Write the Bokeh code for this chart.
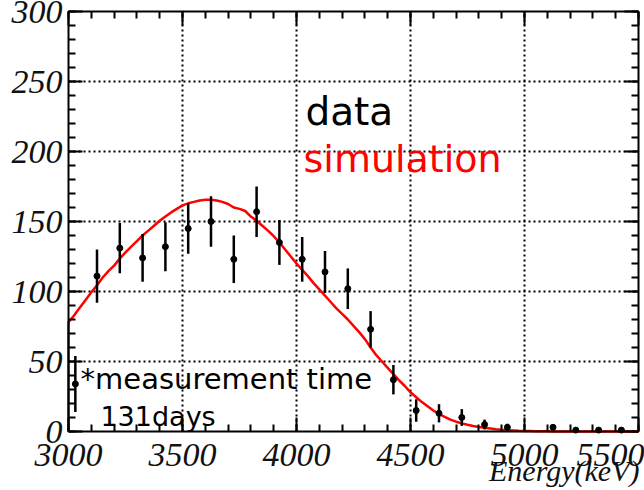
import numpy as np
from bokeh.plotting import figure
from bokeh.models import (Range1d, SingleIntervalTicker, Label, ColumnDataSource,
                          LinearAxis)
from bokeh.embed import file_html
from bokeh.resources import INLINE

# ---- data ----
data_energy = [3030, 3125, 3225, 3325, 3425, 3525, 3625, 3725, 3825, 3925,
               4025, 4125, 4225, 4325, 4425, 4525, 4625, 4725, 4825, 4925,
               5125, 5225, 5325, 5425]
data_counts = [34, 111, 131, 124, 132, 145, 150, 123, 157, 135,
               123, 114, 102, 73, 37, 15, 13, 10, 5, 3,
               3, 1, 1, 1]
data_error = [20, 19, 18, 17, 17.5, 18, 18, 17, 18, 16,
              16, 15, 14.5, 13, 10.5, 8, 6.5, 6, 3.5, 2.5,
              2, 1, 1, 1]

sim_first_edge = 3000
sim_bin_width = 25
sim_counts = [78, 83, 88.5, 94, 99.5, 104.5, 110, 114.5, 118.5, 123.5,
              128, 132, 136, 140, 143.5, 147, 150.5, 153.5, 156.5, 159,
              161.5, 163, 164, 165, 165.5, 165.5, 165, 164, 162.5, 160,
              159, 157.5, 153.5, 150.5, 147, 143.5, 139.5, 135, 130, 125,
              120, 115.5, 111, 106, 101.5, 97, 92.5, 88, 84, 80,
              75.5, 71, 66, 60, 54.5, 50, 45.5, 41, 36.5, 32.5,
              28, 24.5, 21, 18, 15, 12.5, 10.5, 8.5, 7, 5.8,
              4.8, 3.9, 3.2, 2.6, 2.1, 1.6, 1.2, 0.9, 0.7, 0.5,
              0.4, 0.3, 0.2, 0.2, 0.1, 0, 0, 0, 0, 0,
              0, 0, 0, 0, 0, 0, 0, 0, 0, 0]

x_min, x_max = 3000, 5500
y_min, y_max = 0, 300
x_major_step = 500
y_major_step = 50
x_title = "Energy(keV)"
legend_data = "data"
legend_sim = "simulation"
note_line1 = "*measurement time"
note_line2 = "131days"

# ---- layout (pixels) ----
W, H = 644, 490                 # whole canvas is the frame; axes sit at fixed spots
PLOT_W, PLOT_H = 570, 420       # size of the 3000..5500 x 0..300 box
LEFT, TOP = 68, 11              # where that box starts
kx = (x_max - x_min) / PLOT_W
ky = (y_max - y_min) / PLOT_H
x_lo = x_min - LEFT * kx
x_hi = x_min + (W - LEFT) * kx
y_hi = y_max + TOP * ky
y_lo = y_max - (H - TOP) * ky

p = figure(frame_width=W, frame_height=H, output_backend="svg",
           toolbar_location=None, x_range=Range1d(x_lo, x_hi),
           y_range=Range1d(y_lo, y_hi),
           min_border_left=0, min_border_top=0, min_border_right=0,
           min_border_bottom=0)
p.background_fill_color = "white"
p.border_fill_color = "white"
p.outline_line_color = None
p.grid.visible = False

bottom_ax = p.below[0]
left_ax = p.left[0]

xt = SingleIntervalTicker(interval=x_major_step, num_minor_ticks=5)
yt = SingleIntervalTicker(interval=y_major_step, num_minor_ticks=5)
bottom_ax.ticker = xt
left_ax.ticker = yt
bottom_ax.fixed_location = y_min
bottom_ax.bounds = (x_min, x_max)
left_ax.fixed_location = x_min
left_ax.bounds = (y_min, y_max)

top_ax = LinearAxis(ticker=xt, fixed_location=y_max, bounds=(x_min, x_max))
right_ax = LinearAxis(ticker=yt, fixed_location=x_max, bounds=(y_min, y_max))
p.add_layout(top_ax, "above")
p.add_layout(right_ax, "right")

for ax in (bottom_ax, left_ax, top_ax, right_ax):
    ax.axis_line_width = 2
    ax.axis_line_color = "black"
    ax.major_tick_in = 14
    ax.major_tick_out = 0
    ax.minor_tick_in = 7
    ax.minor_tick_out = 0
    ax.major_tick_line_width = 2
    ax.minor_tick_line_width = 2
    ax.major_tick_line_color = "black"
    ax.minor_tick_line_color = "black"
    ax.major_label_text_font = "Liberation Serif"
    ax.major_label_text_font_style = "italic"
    ax.major_label_text_font_size = "34px"
    ax.major_label_text_color = "#111111"
for ax in (top_ax, right_ax):
    ax.major_label_text_font_size = "2px"
    ax.major_label_text_color = None
    ax.major_label_standoff = 0
bottom_ax.major_label_standoff = 12
left_ax.major_label_standoff = 6

# dotted grid over the data box only, at the major ticks
grid_x = list(range(x_min + x_major_step, x_max, x_major_step))
grid_y = list(range(y_min + y_major_step, y_max, y_major_step))
p.segment(x0=grid_x, y0=[y_min] * len(grid_x), x1=grid_x, y1=[y_max] * len(grid_x),
          line_color="black", line_width=2, line_dash="2 3")
p.segment(x0=[x_min] * len(grid_y), y0=grid_y, x1=[x_max] * len(grid_y), y1=grid_y,
          line_color="black", line_width=2, line_dash="2 3")

# simulation step histogram
edges = sim_first_edge + sim_bin_width * np.arange(len(sim_counts) + 1)
vals = np.array(sim_counts, dtype=float)
sx = np.concatenate([[edges[0]], np.repeat(edges, 2)[:-1]])
sy = np.concatenate([[0.0], np.repeat(vals, 2), [vals[-1]]])[:len(sx)]
p.line(sx, sy, line_color="red", line_width=2.5)

# data points with error bars
de = np.array(data_energy, dtype=float)
dc = np.array(data_counts, dtype=float)
dr = np.array(data_error, dtype=float)
src = ColumnDataSource(dict(x=de, y=dc, lo=np.maximum(dc - dr, 0), hi=dc + dr))
p.segment(x0="x", y0="lo", x1="x", y1="hi", source=src,
          line_color="black", line_width=2.5)
p.scatter(x="x", y="y", source=src, size=6, color="black")

# texts
p.add_layout(Label(x=4039, y=228.4, text=legend_data, text_color="black",
                   text_font="DejaVu Sans", text_font_size="39px",
                   text_baseline="alphabetic"))
p.add_layout(Label(x=4031, y=194.8, text=legend_sim, text_color="red",
                   text_font="DejaVu Sans", text_font_size="38px",
                   text_baseline="alphabetic"))
p.add_layout(Label(x=3053, y=37.6, text=note_line1, text_color="black",
                   text_font="DejaVu Sans", text_font_size="29px",
                   text_baseline="alphabetic"))
p.add_layout(Label(x=3140, y=11, text=note_line2, text_color="black",
                   text_font="DejaVu Sans", text_font_size="27px",
                   text_baseline="alphabetic"))
p.add_layout(Label(x=x_max, y=-28, x_offset=1, text=x_title,
                   text_color="#111111", text_font="Liberation Serif",
                   text_font_style="italic", text_font_size="30px",
                   text_align="right", text_baseline="alphabetic"))

open("out.html", "w").write(file_html(p, INLINE))
